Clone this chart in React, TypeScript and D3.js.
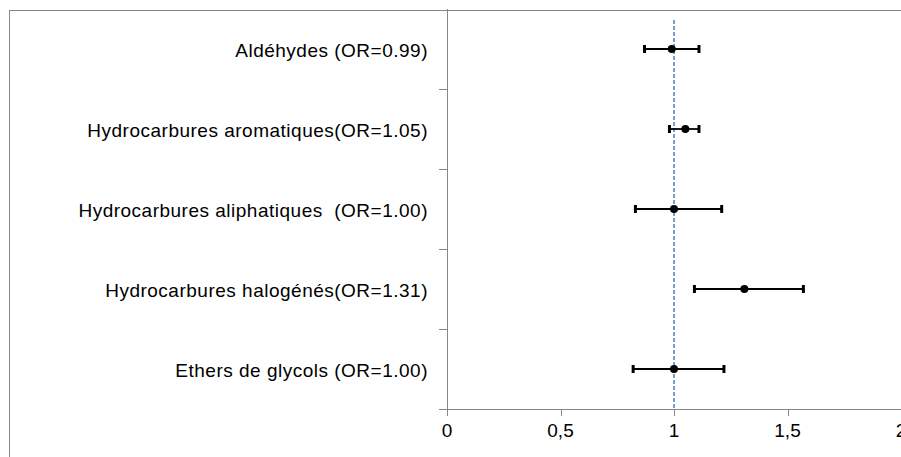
import { useEffect, useRef } from 'react';
import * as d3 from 'd3';

const labels = [
  'Aldéhydes (OR=0.99)',
  'Hydrocarbures aromatiques(OR=1.05)',
  'Hydrocarbures aliphatiques  (OR=1.00)',
  'Hydrocarbures halogénés(OR=1.31)',
  'Ethers de glycols (OR=1.00)',
];
const oddsRatios = [0.99, 1.05, 1.0, 1.31, 1.0];
const lowerCI = [0.87, 0.98, 0.83, 1.09, 0.82];
const upperCI = [1.11, 1.11, 1.21, 1.57, 1.22];
const xTicks = [0, 0.5, 1, 1.5, 2];
const xTickLabels = ['0', '0,5', '1', '1,5', '2'];

const W = 901;
const H = 457;

const App = () => {
  const svgRef = useRef<SVGSVGElement>(null);

  useEffect(() => {
    if (!svgRef.current) return;
    const root = d3.select(svgRef.current);
    root.selectAll('*').remove();

    const font = 'Liberation Sans, Arial, sans-serif';
    const axisColor = '#868686';

    // plot area
    const left = 447;
    const top = 9;
    const bottom = 409;

    const x = d3.scaleLinear().domain([0, 2]).range([left, 901]);
    const y = d3.scaleBand<number>().domain(d3.range(labels.length)).range([top, bottom]);

    // outer chart border
    root
      .append('rect')
      .attr('x', 9.5)
      .attr('y', 10.5)
      .attr('width', W + 10)
      .attr('height', H + 10)
      .attr('fill', 'none')
      .attr('stroke', axisColor)
      .attr('stroke-width', 1);

    // y axis line + ticks between categories
    root
      .append('line')
      .attr('x1', left + 0.5)
      .attr('x2', left + 0.5)
      .attr('y1', top)
      .attr('y2', bottom + 7)
      .attr('stroke', axisColor);

    d3.range(1, labels.length + 1).forEach(i => {
      const yy = Math.round(top + y.step() * i) + 0.5;
      root
        .append('line')
        .attr('x1', left - 8)
        .attr('x2', left)
        .attr('y1', yy)
        .attr('y2', yy)
        .attr('stroke', axisColor);
    });

    // x axis
    root
      .append('line')
      .attr('x1', left - 8)
      .attr('x2', W)
      .attr('y1', bottom + 0.5)
      .attr('y2', bottom + 0.5)
      .attr('stroke', axisColor);

    xTicks.forEach((t, i) => {
      const xx = Math.round(x(t)) + 0.5;
      root
        .append('line')
        .attr('x1', xx)
        .attr('x2', xx)
        .attr('y1', bottom)
        .attr('y2', bottom + 7)
        .attr('stroke', axisColor);
      root
        .append('text')
        .attr('x', x(t))
        .attr('y', bottom + 28)
        .attr('text-anchor', 'middle')
        .attr('font-family', font)
        .attr('font-size', 19)
        .attr('fill', '#000')
        .text(xTickLabels[i]);
    });

    // reference line at OR = 1
    root
      .append('line')
      .attr('x1', x(1))
      .attr('x2', x(1))
      .attr('y1', 20)
      .attr('y2', bottom)
      .attr('stroke', '#4a7ebb')
      .attr('stroke-width', 1.5)
      .attr('stroke-dasharray', '4 2');

    // category labels
    root
      .selectAll('.cat')
      .data(labels)
      .enter()
      .append('text')
      .attr('class', 'cat')
      .attr('x', 428)
      .attr('y', (_, i) => (y(i) as number) + y.bandwidth() / 2 + 8)
      .attr('text-anchor', 'end')
      .attr('font-family', font)
      .attr('font-size', 19)
      .attr('letter-spacing', 0.5)
      .attr('fill', '#000')
      .style('white-space', 'pre')
      .text(d => d);

    // error bars
    const g = root.append('g');
    oddsRatios.forEach((or, i) => {
      const cy = (y(i) as number) + y.bandwidth() / 2;
      g.append('line')
        .attr('x1', x(lowerCI[i]))
        .attr('x2', x(upperCI[i]))
        .attr('y1', cy)
        .attr('y2', cy)
        .attr('stroke', '#000')
        .attr('stroke-width', 1.8);
      [lowerCI[i], upperCI[i]].forEach(v => {
        g.append('line')
          .attr('x1', x(v))
          .attr('x2', x(v))
          .attr('y1', cy - 4)
          .attr('y2', cy + 4)
          .attr('stroke', '#000')
          .attr('stroke-width', 3);
      });
      g.append('circle')
        .attr('cx', x(or))
        .attr('cy', cy)
        .attr('r', 4)
        .attr('fill', '#000');
    });
  }, []);

  return (
    <svg
      ref={svgRef}
      width={W}
      height={H}
      style={{ position: 'absolute', left: 0, top: 0, background: '#fff' }}
    />
  );
};

export default App;
